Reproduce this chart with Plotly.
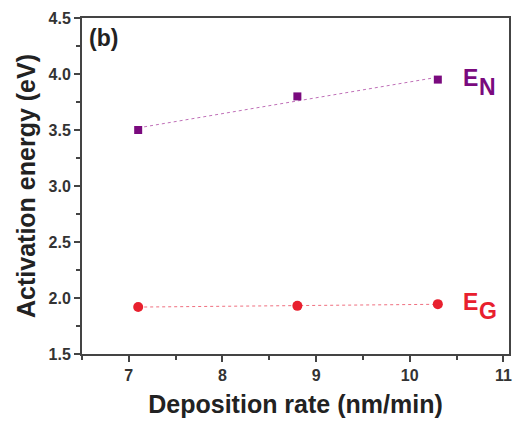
import numpy as np
import plotly.graph_objects as go

rate = [7.1, 8.8, 10.3]
e_n = [3.50, 3.80, 3.95]
e_g = [1.92, 1.93, 1.945]

purple = "#7a0a7e"
red = "#e8202e"
font = "Liberation Sans, Arial, sans-serif"

fig = go.Figure()
for ys, col, lcol, sym, sz in [(e_n, purple, "#c070b8", "square", 8),
                               (e_g, red, "#f07080", "circle", 10)]:
    k, b = np.polyfit(rate, ys, 1)
    fx = [rate[0], rate[-1]]
    fig.add_trace(go.Scatter(x=fx, y=[k * v + b for v in fx], mode="lines",
                             line=dict(color=lcol, width=1, dash="dot")))
    fig.add_trace(go.Scatter(x=rate, y=ys, mode="markers",
                             marker=dict(symbol=sym, size=sz, color=col)))

def label(main, sub, yv, col):
    fig.add_annotation(x=10.55, y=yv, xref="x", yref="y", xanchor="left", yanchor="middle",
                       text="<b>" + main + "</b>", showarrow=False, yshift=2,
                       font=dict(family=font, size=23, color=col))
    fig.add_annotation(x=10.55, y=yv, xref="x", yref="y", xanchor="left", yanchor="middle",
                       text="<b>" + sub + "</b>", showarrow=False, xshift=16, yshift=-7,
                       font=dict(family=font, size=23, color=col))

label("E", "N", e_n[-1], purple)
label("E", "G", e_g[-1], red)

fig.add_annotation(x=0.012, y=0.985, xref="paper", yref="paper", xanchor="left", yanchor="top",
                   text="<b>(b)</b>", showarrow=False,
                   font=dict(family=font, size=23, color="#222"))

axis_common = dict(showline=True, linecolor="#444", linewidth=2, mirror=True,
                   ticks="outside", ticklen=6, tickwidth=2, tickcolor="#444",
                   showgrid=False, zeroline=False,
                   tickfont=dict(family=font, size=16, color="#333"))

fig.update_xaxes(range=[6.5, 11.06], dtick=1, tick0=7,
                 minor=dict(ticks="outside", ticklen=4, tickwidth=2, tickcolor="#444", dtick=0.5),
                 title=dict(text="<b>Deposition rate (nm/min)</b>",
                            font=dict(family=font, size=25, color="#222"), standoff=12),
                 **axis_common)
fig.update_yaxes(range=[1.5, 4.5], dtick=0.5, tickformat=".1f",
                 minor=dict(ticks="outside", ticklen=4, tickwidth=2, tickcolor="#444", dtick=0.25),
                 title=dict(text="<b>Activation energy (eV)</b>",
                            font=dict(family=font, size=25, color="#222"), standoff=6),
                 **axis_common)

fig.update_layout(width=518, height=425, showlegend=False,
                  margin=dict(l=82, r=6, t=18, b=71),
                  paper_bgcolor="white", plot_bgcolor="white")
fig.update_xaxes(tickprefix="<b>", ticksuffix="</b>")
fig.update_yaxes(tickprefix="<b>", ticksuffix="</b>")

fig.write_html("out.html")
